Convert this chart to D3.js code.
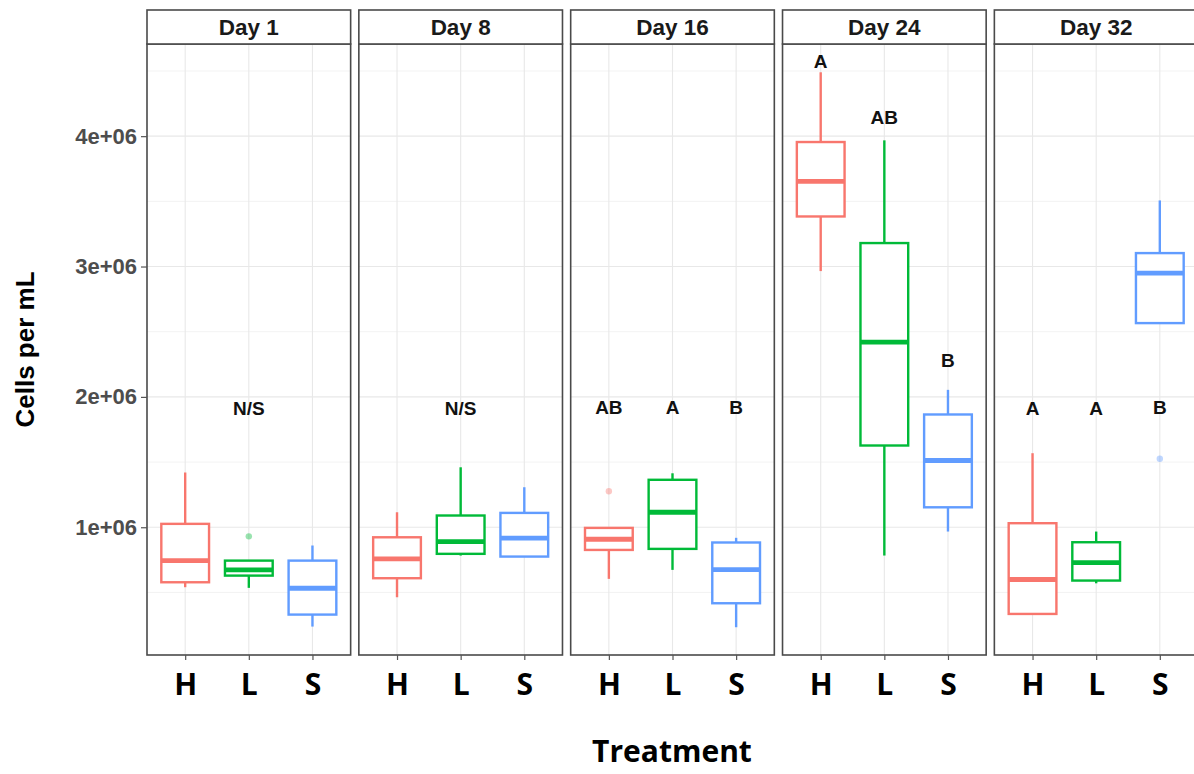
<!DOCTYPE html>
<html>
<head>
<meta charset="utf-8">
<script src="https://cdn.jsdelivr.net/npm/d3@7"></script>
<style>
  body { margin: 0; background: #fff; }
  svg { display: block; }
</style>
</head>
<body>
<div id="chart"></div>
<script>
// data (cells per mL)
const days = ["Day 1", "Day 8", "Day 16", "Day 24", "Day 32"];
const treatments = ["H", "L", "S"];
const colors = ["#F8766D", "#00BA38", "#619CFF"];

// one row per day, columns H, L, S
const whiskerLow  = [[0.54e6, 0.535e6, 0.238e6], [0.463e6, 0.783e6, 0.775e6], [0.604e6, 0.673e6, 0.233e6], [2.965e6, 0.783e6, 0.967e6], [0.335e6, 0.57e6, 2.566e6]];
const q1          = [[0.578e6, 0.629e6, 0.33e6], [0.609e6, 0.796e6, 0.775e6], [0.826e6, 0.834e6, 0.417e6], [3.384e6, 1.627e6, 1.153e6], [0.335e6, 0.591e6, 2.566e6]];
const medians     = [[0.744e6, 0.673e6, 0.532e6], [0.757e6, 0.89e6, 0.916e6], [0.908e6, 1.115e6, 0.675e6], [3.653e6, 2.42e6, 1.512e6], [0.599e6, 0.729e6, 2.949e6]];
const q3          = [[1.026e6, 0.744e6, 0.744e6], [0.923e6, 1.09e6, 1.11e6], [0.995e6, 1.364e6, 0.883e6], [3.955e6, 3.18e6, 1.865e6], [1.031e6, 0.885e6, 3.103e6]];
const whiskerHigh = [[1.42e6, 0.745e6, 0.86e6], [1.115e6, 1.46e6, 1.307e6], [0.995e6, 1.414e6, 0.919e6], [4.49e6, 3.968e6, 2.054e6], [1.568e6, 0.967e6, 3.507e6]];

// outliers: [day index, treatment index, value]
const outliers = [[0, 1, 0.93e6], [2, 0, 1.276e6], [4, 2, 1.525e6]];

// significance letters and their heights
const letters = [["", "N/S", ""], ["", "N/S", ""], ["AB", "A", "B"], ["A", "AB", "B"], ["A", "A", "B"]];
const letterY = [[1.91e6, 1.91e6, 1.91e6], [1.91e6, 1.91e6, 1.91e6], [1.92e6, 1.92e6, 1.92e6], [4.576e6, 4.147e6, 2.279e6], [1.91e6, 1.91e6, 1.925e6]];

const yTicks = [1e6, 2e6, 3e6, 4e6];
const yMinor = [0.5e6, 1.5e6, 2.5e6, 3.5e6, 4.5e6];

const W = 1194, H = 774;
const plotTop = 44, plotBottom = 655, stripTop = 10;

const svg = d3.select("#chart")
              .append("svg")
              .attr("width", W)
              .attr("height", H)
              .style("font-family", "'Liberation Sans', Arial, sans-serif");

// panel positions
const xPanel = d3.scaleBand()
                 .domain(days)
                 .range([147, 1198])
                 .paddingInner(0.0387);

const y = d3.scaleLinear()
            .domain([0.02e6, 4.707e6])
            .range([plotBottom, plotTop]);

days.forEach((day, i) => {
   const left = xPanel(day);
   const bw = xPanel.bandwidth();
   const x = d3.scalePoint()
               .domain(treatments)
               .range([left, left + bw])
               .padding(0.6);
   const boxW = x.step() * 0.75;

   const g = svg.append("g").attr("class", "panel");

   // grid
   g.selectAll(".minor")
    .data(yMinor)
    .join("line")
    .attr("x1", left).attr("x2", left + bw)
    .attr("y1", d => y(d)).attr("y2", d => y(d))
    .attr("stroke", "#f3f3f3")
    .attr("stroke-width", 1);
   g.selectAll(".major")
    .data(yTicks)
    .join("line")
    .attr("x1", left).attr("x2", left + bw)
    .attr("y1", d => y(d)).attr("y2", d => y(d))
    .attr("stroke", "#e8e8e8")
    .attr("stroke-width", 1.1);
   g.selectAll(".vgrid")
    .data(treatments)
    .join("line")
    .attr("x1", d => x(d)).attr("x2", d => x(d))
    .attr("y1", plotTop).attr("y2", plotBottom)
    .attr("stroke", "#e8e8e8")
    .attr("stroke-width", 1.1);

   // boxes
   treatments.forEach((t, j) => {
      const cx = x(t);
      const col = colors[j];
      const bg = g.append("g");
      bg.append("line")
        .attr("x1", cx).attr("x2", cx)
        .attr("y1", y(q3[i][j])).attr("y2", y(whiskerHigh[i][j]))
        .attr("stroke", col).attr("stroke-width", 2.4);
      bg.append("line")
        .attr("x1", cx).attr("x2", cx)
        .attr("y1", y(q1[i][j])).attr("y2", y(whiskerLow[i][j]))
        .attr("stroke", col).attr("stroke-width", 2.4);
      bg.append("rect")
        .attr("x", cx - boxW / 2)
        .attr("y", y(q3[i][j]))
        .attr("width", boxW)
        .attr("height", y(q1[i][j]) - y(q3[i][j]))
        .attr("fill", "#fff")
        .attr("stroke", col)
        .attr("stroke-width", 2.4);
      bg.append("line")
        .attr("x1", cx - boxW / 2).attr("x2", cx + boxW / 2)
        .attr("y1", y(medians[i][j])).attr("y2", y(medians[i][j]))
        .attr("stroke", col).attr("stroke-width", 4.8);

      if (letters[i][j]) {
         g.append("text")
          .attr("x", cx)
          .attr("y", y(letterY[i][j]))
          .attr("dy", "0.36em")
          .attr("text-anchor", "middle")
          .style("font-size", "19px")
          .style("font-weight", "bold")
          .attr("fill", "#111")
          .text(letters[i][j]);
      }
   });

   // outliers
   g.selectAll(".outlier")
    .data(outliers.filter(o => o[0] === i))
    .join("circle")
    .attr("cx", o => x(treatments[o[1]]))
    .attr("cy", o => y(o[2]))
    .attr("r", 3.2)
    .attr("fill", o => colors[o[1]])
    .attr("opacity", 0.4);

   // panel border
   g.append("rect")
    .attr("x", left).attr("y", plotTop)
    .attr("width", bw).attr("height", plotBottom - plotTop)
    .attr("fill", "none")
    .attr("stroke", "#4a4a4a")
    .attr("stroke-width", 1.6);

   // strip
   g.append("rect")
    .attr("x", left).attr("y", stripTop)
    .attr("width", bw).attr("height", plotTop - stripTop)
    .attr("fill", "#fff")
    .attr("stroke", "#4a4a4a")
    .attr("stroke-width", 1.6);
   g.append("text")
    .attr("x", left + bw / 2)
    .attr("y", (stripTop + plotTop) / 2)
    .attr("dy", "0.36em")
    .attr("text-anchor", "middle")
    .style("font-size", "22.5px")
    .style("font-weight", "bold")
    .attr("fill", "#1a1a1a")
    .text(day);

   // x axis
   const xa = g.append("g")
               .attr("transform", `translate(0,${plotBottom})`)
               .call(d3.axisBottom(x).tickSize(5).tickPadding(14));
   xa.select(".domain").remove();
   xa.selectAll(".tick line").attr("stroke", "#555").attr("stroke-width", 1.2);
   xa.selectAll(".tick text")
     .attr("fill", "#000")
     .style("font-family", "'Open Sans', sans-serif")
     .style("font-size", "30px")
     .style("font-weight", "bold");
});

// y axis
const ya = svg.append("g")
              .attr("transform", `translate(147,0)`)
              .call(d3.axisLeft(y).tickValues(yTicks).tickSize(6).tickPadding(4)
                      .tickFormat(d => (d / 1e6) + "e+06"));
ya.select(".domain").remove();
ya.selectAll(".tick line").attr("stroke", "#555").attr("stroke-width", 1.2);
ya.selectAll(".tick text")
  .attr("fill", "#4d4d4d")
  .style("font-size", "22px")
  .style("font-weight", "bold");

// axis titles
svg.append("text")
   .attr("transform", `translate(34,${(plotTop + plotBottom) / 2}) rotate(-90)`)
   .attr("text-anchor", "middle")
   .style("font-size", "26px")
   .style("font-weight", "bold")
   .attr("fill", "#000")
   .text("Cells per mL");

svg.append("text")
   .attr("x", 672)
   .attr("y", 762)
   .attr("text-anchor", "middle")
   .style("font-family", "'Open Sans', sans-serif")
   .style("font-size", "30px")
   .style("font-weight", "bold")
   .attr("fill", "#000")
   .text("Treatment");
</script>
</body>
</html>
